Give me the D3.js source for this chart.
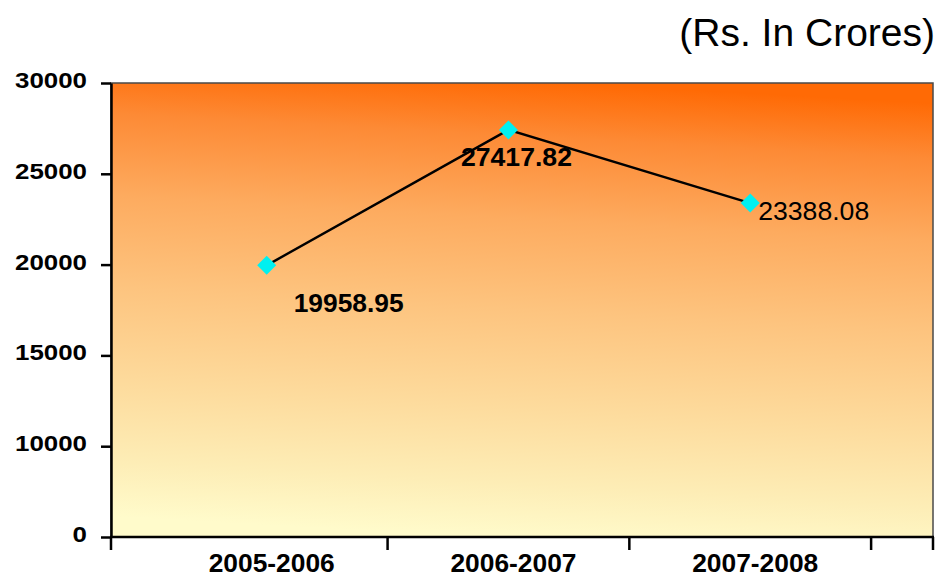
<!DOCTYPE html>
<html>
<head>
<meta charset="utf-8">
<script src="https://cdn.jsdelivr.net/npm/d3@7"></script>
<style>
  html, body { margin: 0; padding: 0; background: #ffffff; }
  svg { display: block; font-family: "Liberation Sans", Arial, sans-serif; }
</style>
</head>
<body>
<svg id="chart" width="943" height="582"></svg>
<script>
// Annual figures, Rs. in crores
const years = ["2005-2006", "2006-2007", "2007-2008"];
const amounts = [19958.95, 27417.82, 23388.08];
const valueLabels = ["19958.95", "27417.82", "23388.08"];
// Axis tick values as printed on the value axis (evenly spaced on the axis)
const yTickValues = [0, 10000, 15000, 20000, 25000, 30000];
const yTickLabels = ["0", "10000", "15000", "20000", "25000", "30000"];
const unitNote = "(Rs. In Crores)";

const svg = d3.select("#chart");
const plot = { left: 111, right: 933, top: 83, bottom: 537 };

// Value scale: ticks sit at equal spacing, values interpolate between them
const step = (plot.bottom - plot.top) / (yTickValues.length - 1);
const y = d3.scaleLinear()
  .domain(yTickValues)
  .range(yTickValues.map((d, i) => plot.bottom - i * step));

const x = d3.scalePoint()
  .domain(years)
  .range([plot.left, plot.right])
  .padding(0.7)
  .align(0.46);

// Background gradient of the plot area
const defs = svg.append("defs");
const grad = defs.append("linearGradient")
  .attr("id", "bg")
  .attr("x1", "0.55").attr("y1", "0")
  .attr("x2", "0.45").attr("y2", "1");
[
  [0, "#ff6a05"],
  [0.12, "#fd8a35"],
  [0.3, "#fdab5f"],
  [0.5, "#fdc47f"],
  [0.72, "#fddc9e"],
  [0.88, "#fdedb6"],
  [1, "#fffbcb"]
].forEach(([o, c]) => grad.append("stop").attr("offset", o).attr("stop-color", c));

svg.append("rect")
  .attr("x", plot.left).attr("y", plot.top)
  .attr("width", plot.right - plot.left)
  .attr("height", plot.bottom - plot.top)
  .attr("fill", "url(#bg)")
  .attr("stroke", "#4a4a4a")
  .attr("stroke-width", 1.5);

// Value axis
const yAxis = d3.axisLeft(y)
  .tickValues(yTickValues)
  .tickFormat((d, i) => yTickLabels[i])
  .tickSize(10)
  .tickSizeOuter(0)
  .tickPadding(14);
const gy = svg.append("g")
  .attr("transform", `translate(${plot.left},0)`)
  .call(yAxis);
gy.select(".domain").attr("stroke", "#000").attr("stroke-width", 2.5);
gy.selectAll(".tick line").attr("stroke", "#000").attr("stroke-width", 2.5);
gy.selectAll(".tick text")
  .attr("fill", "#000")
  .attr("font-size", 22)
  .attr("font-weight", "bold")
  .attr("dy", "0.2em")
  .attr("textLength", function () { return this.textContent.length * 14.4; })
  .attr("lengthAdjust", "spacingAndGlyphs");

// Category axis: line plus boundary ticks between categories
const halfStep = x.step() / 2;
const boundaries = [plot.left]
  .concat(years.map(c => x(c) + halfStep))
  .concat([plot.right]);
const gx = svg.append("g");
gx.append("line")
  .attr("x1", plot.left - 1).attr("x2", plot.right + 1)
  .attr("y1", plot.bottom).attr("y2", plot.bottom)
  .attr("stroke", "#000").attr("stroke-width", 2.5);
gx.selectAll("line.tick")
  .data(boundaries)
  .join("line")
  .attr("class", "tick")
  .attr("x1", d => d).attr("x2", d => d)
  .attr("y1", plot.bottom).attr("y2", plot.bottom + 13)
  .attr("stroke", "#000").attr("stroke-width", 2.5);
gx.selectAll("text")
  .data(years)
  .join("text")
  .attr("x", d => x(d) + 5)
  .attr("y", plot.bottom + 35)
  .attr("text-anchor", "middle")
  .attr("font-size", 26)
  .attr("font-weight", "bold")
  .attr("fill", "#000")
  .attr("textLength", 126)
  .attr("lengthAdjust", "spacingAndGlyphs")
  .text(d => d);

// Line series
const points = years.map((c, i) => ({ cat: c, value: amounts[i], label: valueLabels[i] }));
svg.append("path")
  .datum(points)
  .attr("fill", "none")
  .attr("stroke", "#000")
  .attr("stroke-width", 2.4)
  .attr("d", d3.line().x(d => x(d.cat)).y(d => y(d.value)));

// Diamond markers
svg.selectAll("path.marker")
  .data(points)
  .join("path")
  .attr("class", "marker")
  .attr("d", d3.symbol(d3.symbolDiamond2, 230)())
  .attr("transform", d => `translate(${x(d.cat)},${y(d.value)})`)
  .attr("fill", "#00f0f0");

// Data labels
const labelStyle = [
  { anchor: "start", dx: 27, dy: 47, weight: "bold", len: 110 },
  { anchor: "middle", dx: 8, dy: 36, weight: "bold", len: 111 },
  { anchor: "start", dx: 8, dy: 17, weight: "normal", len: 111 }
];
svg.selectAll("text.vlabel")
  .data(points)
  .join("text")
  .attr("class", "vlabel")
  .attr("x", (d, i) => x(d.cat) + labelStyle[i].dx)
  .attr("y", (d, i) => y(d.value) + labelStyle[i].dy)
  .attr("text-anchor", (d, i) => labelStyle[i].anchor)
  .attr("font-size", 25)
  .attr("font-weight", (d, i) => labelStyle[i].weight)
  .attr("fill", "#000")
  .attr("textLength", (d, i) => labelStyle[i].len)
  .attr("lengthAdjust", "spacingAndGlyphs")
  .text(d => d.label);

// Unit note
svg.append("text")
  .attr("x", 935)
  .attr("y", 46)
  .attr("text-anchor", "end")
  .attr("font-size", 39)
  .attr("fill", "#000")
  .text(unitNote);
</script>
</body>
</html>
